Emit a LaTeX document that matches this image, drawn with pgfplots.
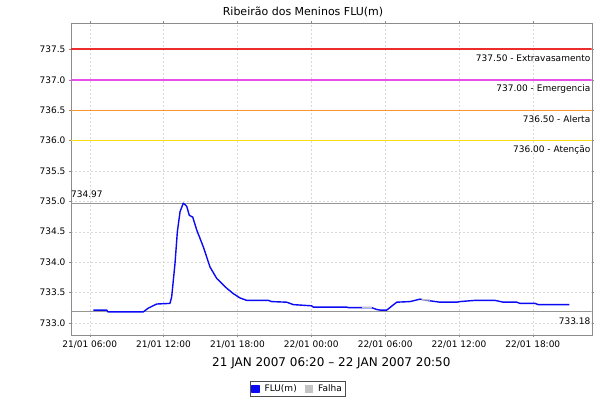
\documentclass[border=0pt]{standalone}
\usepackage{fontspec}
\setmainfont{DejaVu Sans}
\usepackage{pgfplots}
\pgfplotsset{compat=1.18}
\definecolor{flublue}{RGB}{10,10,245}
\definecolor{falha}{RGB}{195,195,195}
\definecolor{lineExtra}{RGB}{235,45,45}
\definecolor{lineEmerg}{RGB}{230,80,230}
\definecolor{lineAlerta}{RGB}{250,150,50}
\definecolor{lineAtenc}{RGB}{250,220,20}
\definecolor{refgray}{RGB}{150,150,150}
\definecolor{axgray}{RGB}{140,140,140}
\begin{document}
\begin{tikzpicture}
\useasboundingbox (0,0) rectangle (600pt,400pt);
\begin{axis}[
  at={(71pt,65pt)}, anchor=south west,
  scale only axis, width=520.7pt, height=311.7pt,
  xmin=4.48, xmax=46.78, ymin=732.80, ymax=737.93,
  xtick={6,12,18,24,30,36,42},
  xticklabels={21/01 06:00,21/01 12:00,21/01 18:00,22/01 00:00,22/01 06:00,22/01 12:00,22/01 18:00},
  ytick={733,733.5,734,734.5,735,735.5,736,736.5,737,737.5},
  yticklabel style={/pgf/number format/.cd,fixed,fixed zerofill,precision=1,1000 sep={},assume math mode=true},
  tick label style={font=\fontsize{9}{10}\selectfont},
  tick align=outside, major tick length=2pt,
  tick style={axgray},
  axis line style={axgray},
  grid=major, grid style={gray!30, dash pattern=on 2pt off 2pt},
  xlabel={21 JAN 2007 06:20 – 22 JAN 2007 20:50},
  xlabel style={font=\fontsize{12}{13}\selectfont, at={(rel axis cs:0.5,0)}, anchor=center, yshift=-28.5pt},
  legend columns=2,
  legend style={at={(rel axis cs:0.435,-0.173)}, anchor=center, draw=black!70, font=\fontsize{9}{10}\selectfont,
    inner sep=1.5pt, column sep=3pt, /tikz/every even column/.append style={column sep=6pt}},
  clip=true,
]
% threshold lines
\addplot[draw=lineExtra, line width=2pt, forget plot] coordinates {(4.48,737.5) (46.78,737.5)};
\addplot[draw=lineEmerg, line width=1.6pt, forget plot] coordinates {(4.48,737.0) (46.78,737.0)};
\addplot[draw=lineAlerta, line width=1.3pt, forget plot] coordinates {(4.48,736.5) (46.78,736.5)};
\addplot[draw=lineAtenc, line width=1.3pt, forget plot] coordinates {(4.48,736.0) (46.78,736.0)};
\addplot[draw=refgray, line width=1pt, forget plot] coordinates {(4.48,734.97) (46.78,734.97)};
\addplot[draw=refgray, line width=1pt, forget plot] coordinates {(4.48,733.18) (46.78,733.18)};
% series
\addplot[color=flublue, line width=1.4pt, line join=round,
  legend image code/.code={\fill[flublue] (0pt,-3.5pt) rectangle (7pt,3.5pt);}] coordinates {
(6.29,733.21) (7.38,733.21) (7.49,733.18) (10.35,733.18) (10.74,733.24) (11.44,733.31)
(12.52,733.32) (12.66,733.43) (12.93,733.98) (13.12,734.50) (13.34,734.83) (13.60,734.97)
(13.88,734.92) (14.09,734.77) (14.37,734.74) (14.69,734.53) (15.23,734.25) (15.77,733.92)
(16.32,733.73) (17.13,733.57) (17.67,733.48) (18.21,733.41) (18.75,733.37) (20.51,733.37)
(20.78,733.35) (22.00,733.34) (22.54,733.30) (24.03,733.28) (24.16,733.26) (26.88,733.26)
(27.01,733.25) (28.91,733.25) (29.31,733.22) (29.58,733.21) (30.13,733.21) (30.94,733.34)
(32.02,733.35) (32.83,733.39) (33.38,733.37) (34.46,733.34) (35.81,733.34) (36.08,733.35)
(37.30,733.37) (38.92,733.37) (39.60,733.34) (40.69,733.34) (40.96,733.32) (42.18,733.32)
(42.44,733.30) (44.96,733.30)
};
\addlegendentry{FLU(m)}
\addplot[color=falha, line width=1.4pt,
  legend image code/.code={\fill[falha] (0pt,-3.5pt) rectangle (7pt,3.5pt);}] coordinates {
(28.10,733.25) (28.91,733.25)
};
\addlegendentry{Falha}
\addplot[color=falha, line width=1.4pt, forget plot] coordinates {(32.97,733.38) (33.65,733.375)};
\end{axis}
\node[font=\fontsize{11}{12}\selectfont] at (303pt,388.5pt) {Ribeirão dos Meninos FLU(m)};
\node[anchor=north east, inner sep=0pt, font=\fontsize{9}{10}\selectfont] at (590.5pt,345.5pt) {737.50 - Extravasamento};
\node[anchor=north east, inner sep=0pt, font=\fontsize{9}{10}\selectfont] at (590.5pt,315.2pt) {737.00 - Emergencia};
\node[anchor=north east, inner sep=0pt, font=\fontsize{9}{10}\selectfont] at (590.5pt,284.8pt) {736.50 - Alerta};
\node[anchor=north east, inner sep=0pt, font=\fontsize{9}{10}\selectfont] at (590.5pt,254.4pt) {736.00 - Atenção};
\node[anchor=south west, inner sep=0pt, font=\fontsize{9}{10}\selectfont] at (71pt,201.7pt) {734.97};
\node[anchor=north east, inner sep=0pt, font=\fontsize{9}{10}\selectfont] at (590.5pt,82.3pt) {733.18};
\end{tikzpicture}
\end{document}
